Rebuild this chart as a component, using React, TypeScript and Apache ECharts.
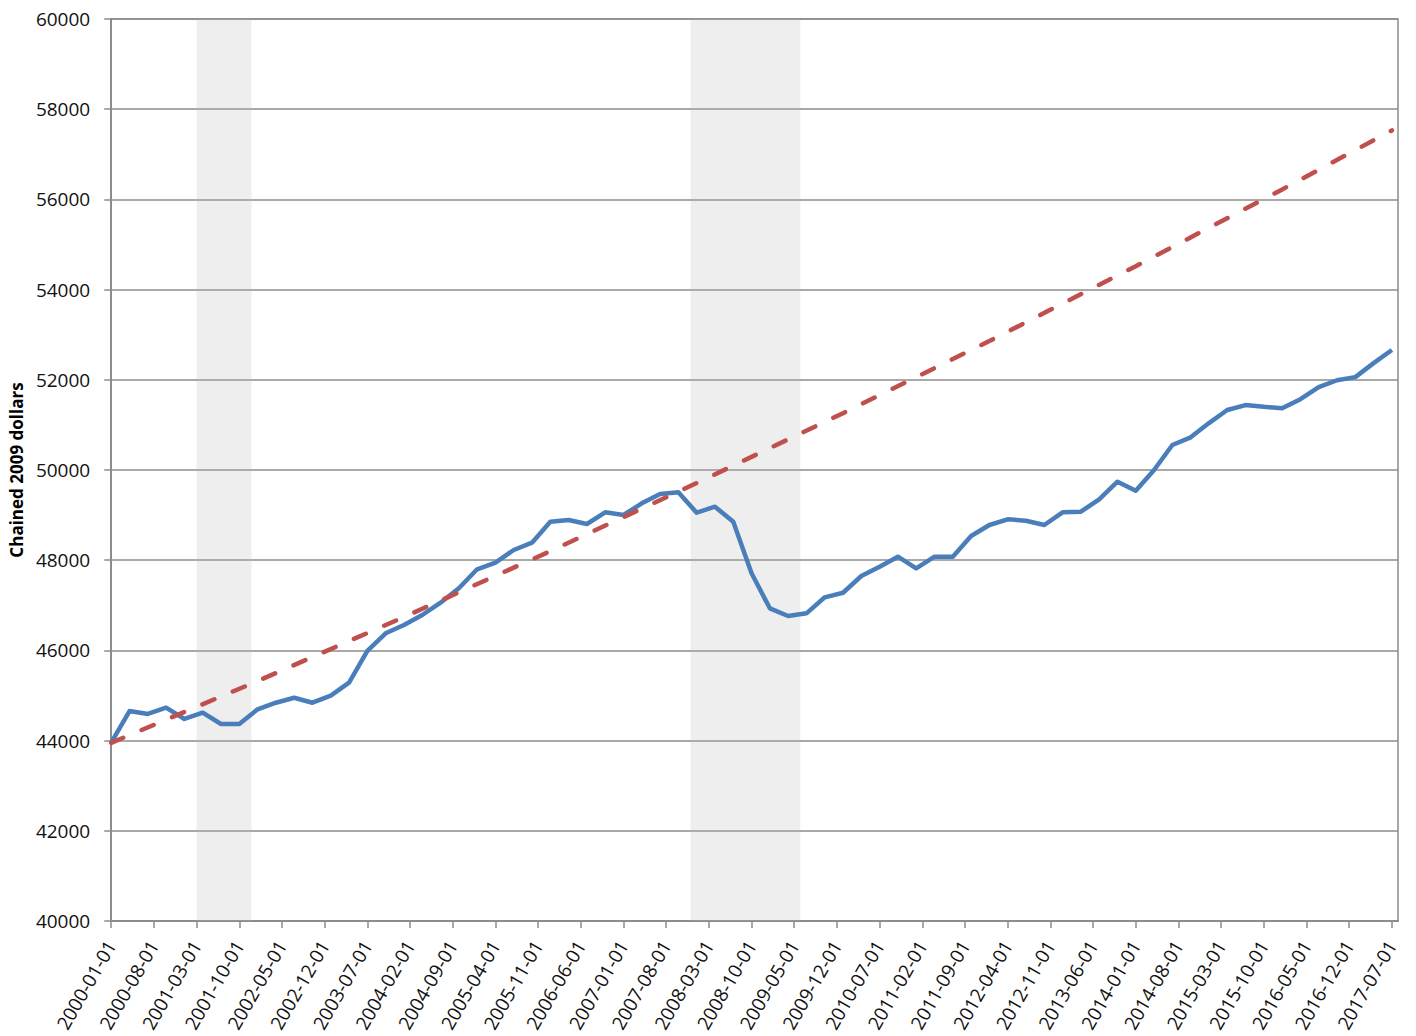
import React, { useEffect, useRef } from "react";
import * as echarts from "echarts";

// Quarterly real GDP per capita (chained 2009 dollars), 2000Q1 .. 2017Q3
const gdpPerCapita: number[] = [
  43953, 44656, 44590, 44730,
  44479, 44619, 44368, 44368,
  44694, 44840, 44951, 44840,
  44996, 45284, 45987, 46380,
  46563, 46785, 47058, 47377,
  47798, 47945, 48226, 48388,
  48854, 48891, 48803, 49061,
  49002, 49261, 49468, 49505,
  49053, 49186, 48854, 47709,
  46933, 46763, 46822, 47177,
  47279, 47650, 47856, 48078,
  47820, 48078, 48078, 48537,
  48780, 48906, 48876, 48780,
  49061, 49075, 49350, 49741,
  49541, 50000, 50554, 50725,
  51040, 51330, 51440, 51400,
  51370, 51570, 51840, 51990,
  52060, 52370, 52660,
];

// Pre-recession trend path, read at quarter indices
const trendQuarters: number[] = [0, 8, 16, 24, 32, 40, 48, 56, 64, 70];
const trendValues: number[] = [43950, 45320, 46740, 48200, 49710, 51260, 52860, 54520, 56220, 57530];

// Recessions as [startMonth, endMonth] (months since 2000-01)
const recessions: [number, number][] = [
  [14, 23],
  [95, 113],
];

const startYear = 2000;
const monthsPerQuarter = 3;
const xMaxMonth = 211;
const labelStepMonths = 7;
const yMin = 40000;
const yMax = 60000;
const yStep = 2000;
const yAxisTitle = "Chained 2009 dollars";

function monthLabel(m: number): string {
  const y = startYear + Math.floor(m / 12);
  const mm = (m % 12) + 1;
  return `${y}-${mm < 10 ? "0" + mm : mm}-01`;
}

export default function App() {
  const ref = useRef<HTMLDivElement>(null);
  useEffect(() => {
    if (!ref.current) return;
    const chart = echarts.init(ref.current, undefined, { renderer: "svg" });
    const font = "'Open Sans', 'Noto Sans', sans-serif";
    const gdpData = gdpPerCapita.map((v, i) => [i * monthsPerQuarter, v]);
    const trendData = trendQuarters.map((q, i) => [q * monthsPerQuarter, trendValues[i]]);
    chart.setOption({
      animation: false,
      backgroundColor: "#ffffff",
      grid: {
        left: 111,
        right: 18,
        top: 19,
        bottom: 115,
        show: true,
        borderColor: "#8c8c8c",
        borderWidth: 1.5,
        backgroundColor: "transparent",
      },
      xAxis: {
        type: "value",
        min: 0,
        max: xMaxMonth,
        interval: labelStepMonths,
        axisLine: { show: true, lineStyle: { color: "#8c8c8c", width: 2 } },
        axisTick: { show: true, length: 7, lineStyle: { color: "#8c8c8c", width: 1.5 } },
        splitLine: { show: false },
        axisLabel: {
          rotate: 60,
          fontSize: 19,
          fontFamily: font,
          color: "#111",
          margin: 21,
          showMaxLabel: false,
          formatter: (v: number) => (v % labelStepMonths === 0 ? monthLabel(v) : ""),
        },
      },
      yAxis: {
        type: "value",
        min: yMin,
        max: yMax,
        interval: yStep,
        name: yAxisTitle,
        nameLocation: "middle",
        nameRotate: 90,
        nameGap: 85,
        nameTextStyle: { fontSize: 17, fontWeight: "bold", fontFamily: font, color: "#000" },
        axisLine: { show: true, lineStyle: { color: "#8c8c8c", width: 2 } },
        axisTick: { show: true, length: 7, lineStyle: { color: "#8c8c8c", width: 1.5 } },
        splitLine: { show: true, lineStyle: { color: "#8c8c8c", width: 1.5 } },
        axisLabel: {
          fontSize: 19,
          fontFamily: font,
          color: "#111",
          margin: 21,
          formatter: (v: number) => String(v),
        },
      },
      series: [
        {
          name: "GDP per capita",
          type: "line",
          data: gdpData,
          showSymbol: false,
          symbol: "none",
          z: 2,
          lineStyle: { color: "#4a7ebb", width: 4.5, join: "round" },
        },
        {
          name: "Trend",
          type: "line",
          data: trendData,
          showSymbol: false,
          symbol: "none",
          z: 3,
          lineStyle: { color: "#c0504d", width: 4.5, type: [13, 20], cap: "round" },
        },
        {
          name: "Recessions",
          type: "line",
          data: [],
          z: 10,
          silent: true,
          markArea: {
            silent: true,
            itemStyle: { color: "rgba(180,180,180,0.23)" },
            data: recessions.map(([s, e]) => [{ xAxis: s }, { xAxis: e }]),
          },
        },
      ],
    });
    return () => chart.dispose();
  }, []);
  return (
    <div
      ref={ref}
      style={{ position: "fixed", left: 0, top: 0, width: 1416, height: 1036, background: "#fff" }}
    />
  );
}
